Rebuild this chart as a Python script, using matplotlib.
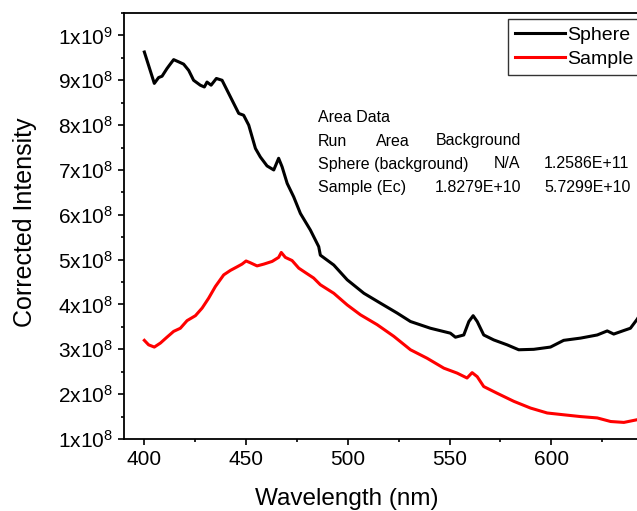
import numpy as np
import matplotlib
matplotlib.use("Agg")
import matplotlib.pyplot as plt
from matplotlib.ticker import MultipleLocator, FuncFormatter

plt.rcParams['font.family'] = ['Liberation Sans', 'DejaVu Sans']
plt.rcParams['mathtext.fontset'] = 'custom'
plt.rcParams['mathtext.rm'] = 'Liberation Sans'

# Sphere curve (wavelength nm, intensity in 1e8)
sphere_wl = [400, 404.9, 407, 408.7, 411.1, 412.4, 414.4, 416.9, 419.3, 421.8,
             424.2, 427.5, 429.5, 430.8, 432.8, 435.4, 438.2, 442.3, 446.4, 448.8,
             451.3, 454.6, 457.0, 460.3, 463.6, 466.0, 467.7, 470.2, 473.4, 476.7,
             481.6, 485.7, 486.5, 493.1, 499.7, 507.9, 516.0, 524.2, 530.8, 540.6,
             550.4, 552.9, 557.0, 559.5, 561.6, 563.6, 566.8, 571.7, 578.3, 584.0,
             591.4, 599.6, 606.1, 614.4, 622.6, 627.5, 630.7, 635.7, 638.9, 642.2,
             646.0]
sphere_val = [9.63, 8.93, 9.06, 9.09, 9.26, 9.34, 9.46, 9.41, 9.36, 9.22,
              9.00, 8.89, 8.85, 8.96, 8.89, 9.04, 9.00, 8.63, 8.26, 8.22,
              8.00, 7.48, 7.29, 7.09, 7.00, 7.26, 7.07, 6.70, 6.40, 6.03,
              5.66, 5.29, 5.10, 4.88, 4.55, 4.25, 4.03, 3.81, 3.62, 3.47,
              3.36, 3.27, 3.32, 3.62, 3.75, 3.62, 3.32, 3.21, 3.10, 2.99,
              3.00, 3.05, 3.20, 3.25, 3.32, 3.41, 3.34, 3.42, 3.47, 3.67,
              3.95]

# Sample curve
sample_wl = [400, 402.1, 404.9, 407.9, 411.1, 414.4, 417.7, 421.0, 425.1, 428.4,
             431.6, 434.9, 439.0, 442.3, 445.6, 448.0, 450.0, 452.1, 455.4, 458.7,
             462.8, 466.0, 467.3, 469.3, 472.6, 475.9, 479.2, 483.2, 486.5, 493.1,
             499.7, 506.2, 514.4, 522.6, 530.8, 539.0, 547.2, 553.7, 558.6, 561.1,
             563.6, 566.8, 573.4, 581.6, 589.8, 598.0, 606.1, 614.4, 622.6, 629.2,
             635.7, 642.2, 646.0]
sample_val = [3.20, 3.10, 3.05, 3.14, 3.27, 3.40, 3.47, 3.64, 3.75, 3.92,
              4.14, 4.40, 4.66, 4.76, 4.84, 4.90, 4.97, 4.93, 4.86, 4.90,
              4.96, 5.05, 5.16, 5.05, 4.98, 4.81, 4.71, 4.59, 4.44, 4.25,
              3.99, 3.77, 3.55, 3.29, 2.99, 2.80, 2.58, 2.47, 2.36, 2.48,
              2.39, 2.17, 2.02, 1.84, 1.69, 1.58, 1.54, 1.50, 1.47, 1.39,
              1.37, 1.43, 1.48]

xticks = [400, 450, 500, 550, 600]

table_lines = ["Area Data", "Run", "Sphere (background)", "Sample (Ec)"]
col2 = ["", "Area", "N/A", "1.8279E+10"]
col3 = ["", "Background", "1.2586E+11", "5.7299E+10"]

W, H = 637, 511
fig = plt.figure(figsize=(W / 100, H / 100), dpi=100)
ax = fig.add_axes([124 / W, 72 / H, 529 / W, 426 / H])

ax.plot(sphere_wl, np.array(sphere_val) * 1e8, color='black', lw=2.2, label='Sphere')
ax.plot(sample_wl, np.array(sample_val) * 1e8, color='red', lw=2.2, label='Sample')

ax.set_xlim(390, 650)
ax.set_ylim(1e8, 1.05e9)

ax.set_xticks(xticks)
ax.xaxis.set_minor_locator(MultipleLocator(25))
ax.yaxis.set_major_locator(MultipleLocator(1e8))
ax.yaxis.set_minor_locator(MultipleLocator(5e7))


def sci(v, pos):
    m = v / 1e8
    if m >= 9.99:
        return r'$\mathregular{1x10^{9}}$'
    return r'$\mathregular{%dx10^{8}}$' % round(m)


ax.yaxis.set_major_formatter(FuncFormatter(sci))
ax.tick_params(which='major', direction='out', length=4, width=1.2, labelsize=15, pad=4)
ax.tick_params(which='minor', direction='out', length=2.5, width=1.2)
for s in ax.spines.values():
    s.set_linewidth(1.3)

# axis titles placed by hand (the reference is cropped on the right)
fig.text(346.5 / W, 1 - 505 / H, "Wavelength (nm)", fontsize=17.5,
         ha='center', va='baseline')
fig.text(25 / W, 1 - 222.5 / H, "Corrected Intensity", fontsize=18,
         ha='center', va='center', rotation=90)

leg = ax.legend(loc='upper left', bbox_to_anchor=(507.7 / W, 1 - 19.3 / H),
                bbox_transform=fig.transFigure, fontsize=14, frameon=True,
                fancybox=False, edgecolor='black', handlelength=2.6,
                handletextpad=0.1, labelspacing=0.35, borderpad=0.35,
                borderaxespad=0)
leg.get_frame().set_linewidth(1.0)

ys = [118, 141, 164, 187]
for i in range(4):
    fig.text(318 / W, 1 - ys[i] / H, table_lines[i], fontsize=11.5, va='center')
    if col2[i]:
        x2 = 376 / W if i == 1 else (494 / W if i == 2 else 435 / W)
        fig.text(x2, 1 - ys[i] / H, col2[i], fontsize=11.5, va='center')
    if col3[i]:
        x3 = 436 / W if i == 1 else 544 / W
        fig.text(x3, 1 - ys[i] / H, col3[i], fontsize=11.5, va='center')

fig.savefig("out.png", dpi=100)
